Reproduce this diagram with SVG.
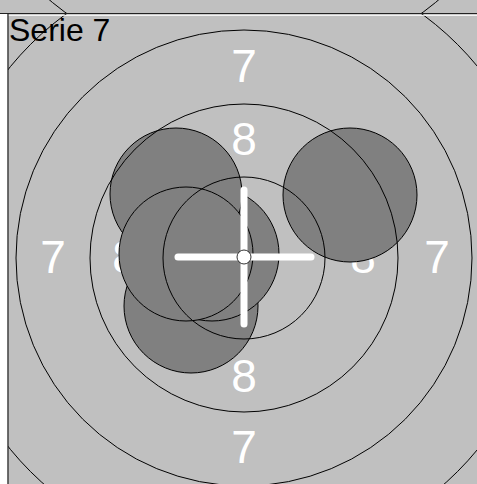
<svg xmlns="http://www.w3.org/2000/svg" width="477" height="484" viewBox="0 0 477 484">
<style>
.ring{fill:none;stroke:#000;stroke-width:1}
.lbl{fill:#fff;font-family:"Liberation Sans",Arial,sans-serif;font-size:46px;text-anchor:middle}
.shot{fill:#808080;stroke:#000;stroke-width:1}
.cross{stroke:#fff;stroke-width:7;stroke-linecap:round}
</style>
<defs>
<clipPath id="topclip"><rect x="0" y="0" width="477" height="13.5"/></clipPath>
<clipPath id="cellclip"><rect x="8" y="14" width="469" height="470"/></clipPath>
</defs>
<rect x="0" y="0" width="477" height="484" fill="#c0c0c0"/>
<g id="prev" clip-path="url(#topclip)">
<circle class="ring" cx="244" cy="-231" r="302"/>
</g>
<g id="target" clip-path="url(#cellclip)">
<g id="labels">
<text class="lbl" x="244" y="82">7</text>
<text class="lbl" x="244" y="155">8</text>
<text class="lbl" x="244" y="392">8</text>
<text class="lbl" x="244" y="463">7</text>
<text class="lbl" x="53" y="273">7</text>
<text class="lbl" x="437" y="273">7</text>
<text class="lbl" x="125" y="273">8</text>
<text class="lbl" x="363" y="273">8</text>
</g>
<g id="shots">
<circle id="shot-f" class="shot" cx="191" cy="306" r="67"/>
<circle id="shot-e" class="shot" cx="212" cy="254" r="67"/>
<circle id="shot-a" class="shot" cx="176" cy="194" r="66"/>
<circle id="shot-c" class="shot" cx="186" cy="254" r="67"/>
<circle id="shot-b" class="shot" cx="350" cy="195" r="67"/>
</g>
<g id="rings">
<circle class="ring" cx="244" cy="258" r="81"/>
<circle class="ring" cx="244" cy="258" r="154"/>
<circle class="ring" cx="244" cy="258" r="228"/>
<circle class="ring" cx="244" cy="258" r="302"/>
</g>
<g id="crosshair">
<line class="cross" x1="178" y1="257" x2="311" y2="257"/>
<line class="cross" x1="244" y1="190" x2="244" y2="324"/>
<circle cx="244" cy="257" r="7" fill="#fff" stroke="#000" stroke-width="0.8"/>
</g>
</g>
<g id="frame">
<rect x="0" y="14" width="7.5" height="470" fill="#fff"/>
<line x1="0" y1="13.5" x2="477" y2="13.5" stroke="#222" stroke-width="1.2"/>
<line x1="8" y1="15.3" x2="477" y2="15.3" stroke="#fff" stroke-width="1"/>
<line x1="8" y1="13" x2="8" y2="484" stroke="#222" stroke-width="1.2"/>
</g>
<text id="title" x="9" y="41" font-family="'Liberation Sans',Arial,sans-serif" font-size="32" fill="#000">Serie 7</text>
</svg>
